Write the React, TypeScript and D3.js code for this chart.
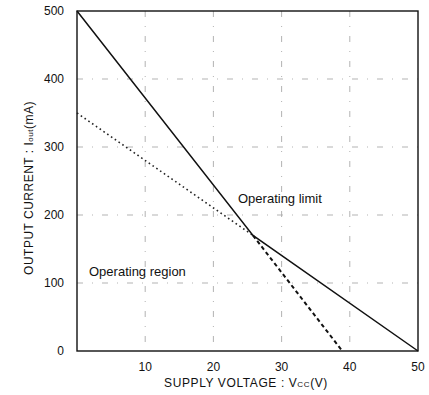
import * as d3 from "d3";

type Pt = { v: number; i: number };

// operating limit envelope (solid)
const limitLine: Pt[] = [
  { v: 0, i: 500 },
  { v: 25.8, i: 170 },
  { v: 50, i: 0 },
];
// extension of the low-current line (dotted)
const dottedLine: Pt[] = [
  { v: 0, i: 350 },
  { v: 25.8, i: 170 },
];
// extension of the high-current line (dashed)
const dashedLine: Pt[] = [
  { v: 25.8, i: 170 },
  { v: 38.9, i: 0 },
];

const xTicks = [10, 20, 30, 40, 50];
const yTicks = [0, 100, 200, 300, 400, 500];
const xGrid = [10, 20, 30, 40];
const yGrid = [100, 200, 300, 400];

const W = 429;
const H = 395;
const font = "'Liberation Sans', Arial, sans-serif";

export default function App() {
  const x = d3.scaleLinear().domain([0, 50]).range([77, 418]);
  const y = d3.scaleLinear().domain([0, 500]).range([351, 11]);
  const line = d3
    .line<Pt>()
    .x((d) => x(d.v))
    .y((d) => y(d.i));

  return (
    <svg
      width={W}
      height={H}
      style={{ position: "absolute", left: 0, top: 0, background: "#fff" }}
      fontFamily={font}
    >
      {/* grid */}
      {xGrid.map((t) => (
        <line
          key={"gx" + t}
          x1={x(t)}
          x2={x(t)}
          y1={y(500)}
          y2={y(0)}
          stroke="#aaa"
          strokeWidth={0.9}
          strokeDasharray="6 9 1 9"
        />
      ))}
      {yGrid.map((t) => (
        <line
          key={"gy" + t}
          x1={x(0)}
          x2={x(50)}
          y1={y(t)}
          y2={y(t)}
          stroke="#aaa"
          strokeWidth={0.9}
          strokeDasharray="6 9 1 9"
        />
      ))}

      {/* frame */}
      <rect
        x={x(0)}
        y={y(500)}
        width={x(50) - x(0)}
        height={y(0) - y(500)}
        fill="none"
        stroke="#111"
        strokeWidth={1.4}
      />

      {/* curves */}
      <path d={line(dottedLine) ?? ""} fill="none" stroke="#222" strokeWidth={1.6} strokeDasharray="1.6 3" />
      <path d={line(dashedLine) ?? ""} fill="none" stroke="#111" strokeWidth={2} strokeDasharray="4 3" />
      <path d={line(limitLine) ?? ""} fill="none" stroke="#111" strokeWidth={1.5} />

      {/* y ticks */}
      {yTicks.map((t) => (
        <text key={"yt" + t} x={64} y={y(t)} dy="0.35em" textAnchor="end" fontSize={12} fill="#111">
          {t}
        </text>
      ))}
      {/* x ticks */}
      {xTicks.map((t) => (
        <text key={"xt" + t} x={x(t)} y={367} dy="0.35em" textAnchor="middle" fontSize={12} fill="#111">
          {t}
        </text>
      ))}

      {/* axis titles */}
      <text x={246} y={387} textAnchor="middle" fontSize={12} fill="#111" letterSpacing={0.6}>
        SUPPLY VOLTAGE : V<tspan fontSize={8}>CC</tspan>(V)
      </text>
      <text
        transform={`translate(33, 188) rotate(-90)`}
        textAnchor="middle"
        fontSize={12}
        fill="#111"
        letterSpacing={0.5}
      >
        OUTPUT CURRENT : I<tspan fontSize={8}>out</tspan>(mA)
      </text>

      {/* annotations */}
      <text x={238} y={203} fontSize={13} fill="#111">
        Operating limit
      </text>
      <text x={89} y={276} fontSize={13} fill="#111">
        Operating region
      </text>
    </svg>
  );
}
